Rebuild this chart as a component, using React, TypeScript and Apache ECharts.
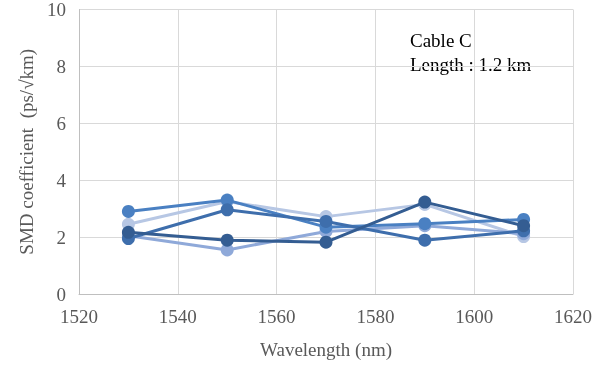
import React, { useEffect, useRef } from "react";
import * as echarts from "echarts";

const wavelengths = [1530, 1550, 1570, 1590, 1610];
const seriesNames = ["S1", "S2", "S3", "S4", "S5"];
const s1 = [2.45, 3.25, 2.72, 3.15, 2.02];
const s2 = [2.05, 1.55, 2.2, 2.4, 2.12];
const s3 = [2.9, 3.3, 2.35, 2.47, 2.62];
const s4 = [1.95, 2.96, 2.55, 1.89, 2.22];
const s5 = [2.17, 1.89, 1.82, 3.23, 2.4];
const seriesColors = ["#b7c7e4", "#8fa9d9", "#4a80c2", "#3e6eac", "#345d92"];
const xTicks = [1520, 1540, 1560, 1580, 1600, 1620];
const yTicks = [0, 2, 4, 6, 8, 10];

export default function App() {
  const ref = useRef<HTMLDivElement>(null);
  useEffect(() => {
    if (!ref.current) return;
    const chart = echarts.init(ref.current, null, { renderer: "svg" });
    const all = [s1, s2, s3, s4, s5];
    const font = "Liberation Serif";
    chart.setOption({
      animation: false,
      textStyle: { fontFamily: font },
      grid: { left: 79, right: 40, top: 8, bottom: 72 },
      xAxis: {
        type: "value",
        min: xTicks[0],
        max: xTicks[xTicks.length - 1],
        interval: 20,
        name: "Wavelength (nm)",
        nameLocation: "middle",
        nameGap: 46,
        nameTextStyle: { fontFamily: font, fontSize: 19, color: "#595959" },
        axisLine: { show: true, lineStyle: { color: "#bfbfbf", width: 1 } },
        axisTick: { show: false },
        splitLine: { show: true, lineStyle: { color: "#d9d9d9", width: 1 } },
        axisLabel: {
          fontFamily: font,
          fontSize: 19,
          color: "#595959",
          margin: 13,
          formatter: (v: number) => String(v),
        },
      },
      yAxis: {
        type: "value",
        min: yTicks[0],
        max: yTicks[yTicks.length - 1],
        interval: 2,
        name: "SMD coefficient  (ps/\u221Akm)",
        nameLocation: "middle",
        nameGap: 42,
        nameTextStyle: { fontFamily: font, fontSize: 19, color: "#595959" },
        axisLine: { show: true, lineStyle: { color: "#bfbfbf", width: 1 } },
        axisTick: { show: false },
        splitLine: { show: true, lineStyle: { color: "#d9d9d9", width: 1 } },
        axisLabel: { fontFamily: font, fontSize: 19, color: "#595959", margin: 13 },
      },
      series: all.map((vals, i) => ({
        name: seriesNames[i],
        type: "line",
        data: wavelengths.map((w, j) => [w, vals[j]]),
        symbol: "circle",
        symbolSize: 13,
        lineStyle: { width: 3, color: seriesColors[i] },
        itemStyle: { color: seriesColors[i] },
        z: 2 + i,
      })),
      graphic: [
        {
          type: "text",
          left: 410,
          top: 28,
          style: {
            text: "Cable C\nLength : 1.2 km",
            fontFamily: font,
            fontSize: 19,
            lineHeight: 24,
            fill: "#000000",
          },
        },
      ],
    });
    return () => chart.dispose();
  }, []);
  return (
    <div
      ref={ref}
      style={{ position: "fixed", left: 0, top: 0, width: 613, height: 366 }}
    />
  );
}
